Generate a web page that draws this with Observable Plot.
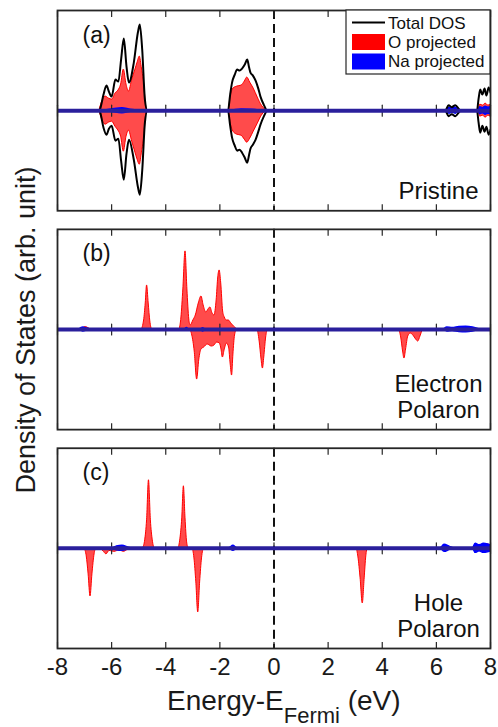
<!DOCTYPE html>
<html><head><meta charset="utf-8">
<script src="https://cdn.jsdelivr.net/npm/d3@7"></script>
<script src="https://cdn.jsdelivr.net/npm/@observablehq/plot@0.6"></script>
<style>
body{margin:0;background:#fff;}
#chart{position:relative;width:498px;height:727px;}
svg text{font-family:"Liberation Sans",Arial,Helvetica,sans-serif;}
</style>
</head><body><div id="chart"></div>
<script>
// ---- categories / labels ----
const panels = ["a", "b", "c"];
const panelLabels = ["(a)", "(b)", "(c)"];
const stateLabels = ["Pristine", "Electron\nPolaron", "Hole\nPolaron"];
const xTicks = [-8, -6, -4, -2, 0, 2, 4, 6, 8];
const legendLabels = ["Total DOS", "O projected", "Na projected"];

// ---- Panel (a) Pristine: [energy (eV), DOS] ----
const aTotalUp = [[-8,0],[-6.45,0],[-6.41,0.3],[-6.3,1.6],[-6.19,2.5],[-6.1,1.9],[-6.0,1.4],[-5.86,3.1],[-5.75,2.9],[-5.65,5.1],[-5.55,7.2],[-5.45,4.4],[-5.36,2.8],[-5.18,4.8],[-5.03,7.8],[-4.96,8.6],[-4.87,6.1],[-4.77,1.1],[-4.68,0],
  [-1.7,0],[-1.62,1.6],[-1.55,2.8],[-1.45,3.6],[-1.36,4.1],[-1.27,4.0],[-1.18,4.2],[-1.08,4.6],[-0.99,5.1],[-0.92,4.3],[-0.87,3.8],[-0.78,3.5],[-0.68,3.0],[-0.58,2.2],[-0.5,1.4],[-0.38,0.6],[-0.25,0],
  [6.33,0],[6.45,0.55],[6.57,0.35],[6.7,0.55],[6.85,0.1],[6.9,0],
  [7.5,0],[7.56,1.2],[7.62,2.1],[7.7,1.6],[7.78,2.2],[7.85,1.5],[7.93,2.3],[8.0,1.8]];
const aTotalDown = [[-8,0],[-6.45,0],[-6.41,-0.3],[-6.3,-1.7],[-6.19,-2.4],[-6.1,-1.8],[-6.0,-1.5],[-5.86,-3.0],[-5.75,-2.8],[-5.65,-5.0],[-5.55,-6.9],[-5.45,-4.3],[-5.36,-2.9],[-5.18,-4.9],[-5.03,-7.6],[-4.96,-8.4],[-4.87,-6.0],[-4.77,-1.2],[-4.68,0],
  [-1.7,0],[-1.62,-1.5],[-1.55,-2.7],[-1.45,-3.5],[-1.36,-4.0],[-1.27,-3.9],[-1.18,-4.2],[-1.08,-4.7],[-0.99,-5.2],[-0.92,-4.4],[-0.87,-3.8],[-0.78,-3.4],[-0.68,-2.9],[-0.58,-2.1],[-0.5,-1.4],[-0.38,-0.6],[-0.25,0],
  [6.33,0],[6.45,-0.55],[6.57,-0.35],[6.7,-0.55],[6.85,-0.1],[6.9,0],
  [7.5,0],[7.56,-1.2],[7.62,-2.2],[7.7,-1.5],[7.78,-2.1],[7.85,-1.6],[7.93,-2.4],[8.0,-1.9]];
const aOUp = [[-6.45,0],[-6.35,0.9],[-6.22,1.4],[-6.1,1.2],[-5.98,1.1],[-5.86,1.7],[-5.75,2.0],[-5.65,2.6],[-5.55,4.1],[-5.45,2.6],[-5.36,1.9],[-5.24,3.1],[-5.12,4.1],[-5.04,4.8],[-4.96,5.4],[-4.88,4.2],[-4.81,3.0],[-4.72,0.4],[-4.66,0],
  [-1.68,0],[-1.6,1.4],[-1.5,2.2],[-1.36,2.4],[-1.2,2.5],[-1.08,2.9],[-0.99,3.3],[-0.88,2.8],[-0.75,2.2],[-0.6,1.3],[-0.45,0.5],[-0.32,0.1],[-0.25,0],
  [7.55,0],[7.62,0.6],[7.72,0.5],[7.82,0.7],[7.92,0.5],[8.0,0.6]];
const aODown = [[-6.45,0],[-6.35,-0.9],[-6.22,-1.4],[-6.1,-1.2],[-5.98,-1.1],[-5.86,-1.6],[-5.75,-2.0],[-5.65,-2.6],[-5.55,-4.1],[-5.45,-2.6],[-5.36,-2.0],[-5.24,-3.1],[-5.12,-4.2],[-5.04,-4.9],[-4.96,-5.4],[-4.88,-4.2],[-4.81,-3.0],[-4.72,-0.4],[-4.66,0],
  [-1.68,0],[-1.6,-1.3],[-1.5,-2.1],[-1.36,-2.4],[-1.2,-2.5],[-1.08,-2.9],[-0.99,-3.2],[-0.88,-2.8],[-0.75,-2.1],[-0.6,-1.3],[-0.45,-0.5],[-0.32,-0.1],[-0.25,0],
  [7.55,0],[7.62,-0.6],[7.72,-0.5],[7.82,-0.7],[7.92,-0.5],[8.0,-0.6]];
const aNaUp = [[-6.3,0],[-6.0,0.12],[-5.6,0.25],[-5.3,0.1],[-4.8,0],[-1.6,0],[-1.2,0.12],[-0.8,0.1],[-0.4,0],
  [6.35,0],[6.48,0.3],[6.6,0.2],[6.72,0.3],[6.85,0],[7.55,0],[7.62,0.35],[7.72,0.25],[7.82,0.4],[7.92,0.3],[8.0,0.35]];
const aNaDown = [[-6.3,0],[-6.0,-0.12],[-5.6,-0.25],[-5.3,-0.1],[-4.8,0],[-1.6,0],[-1.2,-0.12],[-0.8,-0.1],[-0.4,0],
  [6.35,0],[6.48,-0.3],[6.6,-0.2],[6.72,-0.3],[6.85,0],[7.55,0],[7.62,-0.35],[7.72,-0.25],[7.82,-0.4],[7.92,-0.3],[8.0,-0.35]];

// ---- Panel (b) Electron polaron ----
const bOUp = [[-7.2,0],[-7.05,0.15],[-6.95,0.25],[-6.85,0.12],[-6.75,0],
  [-4.9,0],[-4.8,0.9],[-4.74,2.6],[-4.69,4.4],[-4.63,2.6],[-4.57,0.8],[-4.5,0],
  [-3.5,0],[-3.42,1.2],[-3.35,4.0],[-3.27,7.8],[-3.2,4.0],[-3.13,1.0],[-3.08,0.4],[-2.98,0.9],[-2.89,1.4],[-2.78,2.6],[-2.68,3.3],[-2.6,2.4],[-2.5,1.7],[-2.42,2.0],[-2.35,2.2],[-2.27,1.6],[-2.2,1.4],[-2.12,2.9],[-2.06,5.2],[-2.01,5.9],[-1.95,4.6],[-1.88,1.8],[-1.82,1.2],[-1.74,0.9],[-1.67,0.9],[-1.58,0.6],[-1.48,0.3],[-1.36,0]];
const bODown = [[-7.2,0],[-7.0,-0.15],[-6.8,0],
  [-3.12,0],[-3.02,-0.6],[-2.93,-2.2],[-2.84,-5.0],[-2.76,-3.0],[-2.68,-2.0],[-2.58,-1.8],[-2.45,-1.5],[-2.3,-1.7],[-2.2,-1.6],[-2.1,-1.3],[-2.0,-1.4],[-1.94,-2.0],[-1.89,-2.8],[-1.82,-2.0],[-1.74,-1.4],[-1.66,-1.8],[-1.6,-3.5],[-1.55,-4.6],[-1.5,-2.5],[-1.44,-0.6],[-1.36,0],
  [-0.62,0],[-0.53,-1.2],[-0.46,-3.0],[-0.41,-3.9],[-0.36,-2.8],[-0.29,-0.8],[-0.22,0],
  [4.6,0],[4.7,-0.8],[4.77,-2.2],[4.82,-2.9],[4.88,-2.0],[4.96,-0.7],[5.05,-0.4],[5.15,-0.6],[5.25,-1.0],[5.33,-1.2],[5.41,-0.7],[5.5,0]];
const bNaUp = [[-7.2,0],[-7.05,0.2],[-6.9,0.1],[-6.75,0],[-3.3,0],[-3.22,0.15],[-3.14,0],[-2.7,0],[-2.62,0.12],[-2.54,0],
  [6.25,0],[6.4,0.2],[6.6,0.15],[6.85,0.25],[7.1,0.28],[7.35,0.2],[7.6,0]];
const bNaDown = [[-7.2,0],[-7.05,-0.2],[-6.9,-0.1],[-6.75,0],[-2.7,0],[-2.62,-0.2],[-2.54,0],
  [6.25,0],[6.4,-0.2],[6.6,-0.15],[6.85,-0.25],[7.1,-0.28],[7.35,-0.2],[7.6,0]];

// ---- Panel (c) Hole polaron ----
const cOUp = [[-4.84,0],[-4.76,0.8],[-4.69,2.8],[-4.62,6.8],[-4.55,2.8],[-4.48,0.8],[-4.4,0],
  [-3.54,0],[-3.46,0.9],[-3.39,3.0],[-3.33,6.2],[-3.27,3.0],[-3.21,0.6],[-3.15,0],
  [7.5,0],[7.6,0.35],[7.75,0.25],[7.9,0.4],[8.0,0.3]];
const cODown = [[-7.0,0],[-6.92,-0.8],[-6.85,-2.6],[-6.78,-4.8],[-6.71,-2.6],[-6.63,-0.6],[-6.56,0],
  [-6.45,0],[-6.3,-0.3],[-6.19,-0.6],[-6.08,-0.25],[-5.9,-0.35],[-5.7,-0.2],[-5.55,-0.35],[-5.4,-0.15],[-5.25,0],
  [-3.02,0],[-2.94,-1.0],[-2.87,-3.4],[-2.8,-6.4],[-2.73,-3.4],[-2.66,-1.0],[-2.58,0],
  [3.04,0],[3.12,-0.9],[3.2,-3.0],[3.28,-5.5],[3.35,-3.0],[3.41,-0.8],[3.47,0],
  [7.5,0],[7.6,-0.3],[7.75,-0.25],[7.9,-0.35],[8.0,-0.3]];
const cNaUp = [[-5.95,0],[-5.8,0.2],[-5.6,0.25],[-5.4,0.1],[-5.3,0],[-1.66,0],[-1.5,0.25],[-1.36,0],
  [6.15,0],[6.3,0.35],[6.5,0.15],[6.68,0],[7.35,0],[7.45,0.45],[7.6,0.3],[7.75,0.45],[7.9,0.4],[8.0,0.3]];
const cNaDown = [[-5.95,0],[-5.8,-0.2],[-5.6,-0.25],[-5.4,-0.1],[-5.3,0],[-1.66,0],[-1.5,-0.25],[-1.36,0],
  [6.15,0],[6.3,-0.35],[6.5,-0.15],[6.68,0],[7.35,0],[7.45,-0.45],[7.6,-0.3],[7.75,-0.45],[7.9,-0.4],[8.0,-0.3]];

// ---- build tables ----
const rows = (panel, key, pts) => pts.map(([E, v]) => ({panel, key, E, v}));
const totalRows = [...rows("a","up",aTotalUp), ...rows("a","down",aTotalDown)];
const oRows = [...rows("a","up",aOUp), ...rows("a","down",aODown), ...rows("b","up",bOUp), ...rows("b","down",bODown), ...rows("c","up",cOUp), ...rows("c","down",cODown)];
const naRows = [...rows("a","up",aNaUp), ...rows("a","down",aNaDown), ...rows("b","up",bNaUp), ...rows("b","down",bNaDown), ...rows("c","up",cNaUp), ...rows("c","down",cNaDown)];

const FONT = '"Liberation Sans",Arial,Helvetica,sans-serif';
const INK = "#262626";
const W = 498, H = 727, mT = 10, mB = 79, mL = 57, mR = 8;

const tickShape = {draw(ctx, l) { ctx.moveTo(0, 0); ctx.lineTo(0, -l); }};

const chart = Plot.plot({
  width: W, height: H,
  marginTop: mT, marginBottom: mB, marginLeft: mL, marginRight: mR,
  style: {fontFamily: FONT, color: "#1a1a1a", background: "white"},
  x: {domain: [-8, 8]},
  y: {domain: [-10, 10], axis: null},
  fy: {domain: panels, axis: null, paddingInner: 0.085, paddingOuter: 0, round: false},
  marks: [
    Plot.areaY(oRows, {x: "E", y: "v", z: "key", fy: "panel", curve: "monotone-x", fill: "#ff2b2b", fillOpacity: 0.85, stroke: "#ff0000", strokeWidth: 1, clip: true}),
    Plot.areaY(naRows, {x: "E", y: "v", z: "key", fy: "panel", curve: "monotone-x", fill: "#0000ff", stroke: "#0000ff", strokeWidth: 1.5, clip: true}),
    Plot.lineY(totalRows, {x: "E", y: "v", z: "key", fy: "panel", curve: "monotone-x", stroke: "black", strokeWidth: 2, clip: true}),
    Plot.ruleX([0], {stroke: "#111", strokeWidth: 2, strokeDasharray: "9,5"}),
    Plot.vector(xTicks, {x: d => d, y: () => 0, length: 11, rotate: 0, anchor: "middle", shape: tickShape, stroke: INK, strokeWidth: 1.2}),
    Plot.ruleY([0], {stroke: "#2a1f9c", strokeWidth: 4}),
    Plot.axisX(xTicks, {anchor: "top", tickSize: -6, fill: "none", label: null, facetAnchor: null, stroke: INK, strokeWidth: 1.2}),
    Plot.axisX(xTicks, {anchor: "bottom", tickSize: -6, fill: "none", label: null, facetAnchor: null, stroke: INK, strokeWidth: 1.2}),
    Plot.axisX(xTicks, {anchor: "bottom", tickSize: 0, tickPadding: 9, label: null, fontSize: 24, fill: "#1a1a1a", tickFormat: d => String(d).replace("−", "-")}),
    Plot.frame({stroke: INK, strokeWidth: 1.8}),
    Plot.text(panels, {fy: d => d, text: (d, i) => panelLabels[i], frameAnchor: "top-left", textAnchor: "start", lineAnchor: "bottom", dx: 25, dy: 32, fontSize: 23, fill: "#111"}),
    Plot.text(panels, {fy: d => d, text: (d, i) => stateLabels[i], frameAnchor: "bottom-right", textAnchor: "middle", lineAnchor: "bottom", lineHeight: 1.06, dx: -52, dy: -12, fontSize: 24, fill: "#111"})
  ]
});

document.getElementById("chart").appendChild(chart);
const svg = d3.select(chart);

// legend inside panel (a), top-right
const lg = svg.append("g").attr("font-family", FONT).attr("font-size", 17).attr("fill", "#111").attr("text-anchor", "start");
lg.append("rect").attr("x", 346).attr("y", mT).attr("width", W - mR - 346).attr("height", 64).attr("fill", "white").attr("stroke", INK).attr("stroke-width", 1.2);
lg.append("line").attr("x1", 352).attr("x2", 385).attr("y1", 22.5).attr("y2", 22.5).attr("stroke", "black").attr("stroke-width", 2);
lg.append("rect").attr("x", 352).attr("y", 34).attr("width", 33).attr("height", 16).attr("fill", "#ff0000");
lg.append("rect").attr("x", 352).attr("y", 53.5).attr("width", 33).attr("height", 16).attr("fill", "#0000ff");
[28.5, 47.5, 67].forEach((y, i) => lg.append("text").attr("x", 388).attr("y", y).attr("text-anchor", "start").text(legendLabels[i]));

// x axis label with subscript
const xl = svg.append("text").attr("x", 167).attr("y", 710).attr("text-anchor", "start")
  .attr("font-family", FONT).attr("font-size", 28).attr("fill", "#1a1a1a");
xl.append("tspan").text("Energy-E");
xl.append("tspan").attr("font-size", 22).attr("dy", 13).text("Fermi");
xl.append("tspan").attr("dy", -13).text(" (eV)");

// y axis label
svg.append("text").attr("transform", `translate(35,330) rotate(-90)`).attr("text-anchor", "middle")
  .attr("font-family", FONT).attr("font-size", 27).attr("fill", "#1a1a1a").text("Density of States (arb. unit)");
</script></body></html>
